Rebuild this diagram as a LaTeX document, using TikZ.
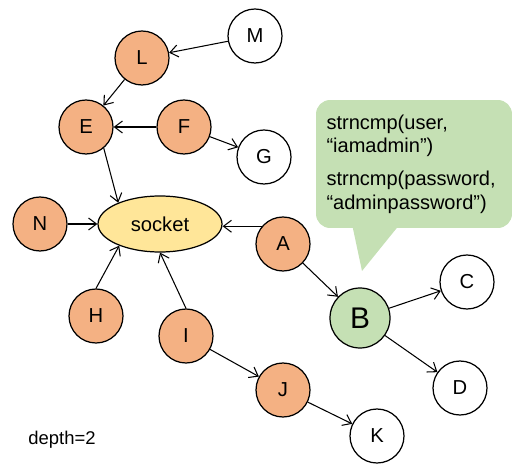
\documentclass[tikz,border=0pt]{standalone}
\usepackage{fontspec}
\setmainfont{Liberation Sans}
\usetikzlibrary{arrows.meta,positioning,shapes.geometric}
\definecolor{taintOrange}{RGB}{244,177,131}
\definecolor{taintGreen}{RGB}{197,224,180}
\definecolor{taintYellow}{RGB}{255,230,153}

\begin{document}
\begin{tikzpicture}[
    x=0.02cm, y=-0.02cm,
    fn/.style={circle, draw=black, line width=0.7pt, minimum size=1.08cm, inner sep=0pt, font=\fontsize{11.5}{13}\selectfont},
    hit/.style={fn, fill=taintOrange},
    leaf/.style={fn, fill=white},
    sink/.style={ellipse, draw=black, line width=0.7pt, fill=taintYellow, minimum width=2.48cm, minimum height=1.12cm, inner sep=0pt, font=\fontsize{11.5}{14}\selectfont},
    check/.style={fn, fill=taintGreen, minimum size=1.2cm, font=\fontsize{17}{19}\selectfont},
    note/.style={fill=taintGreen, rounded corners=8pt, align=left, font=\fontsize{11.4}{13.5}\selectfont, minimum width=3.92cm, minimum height=2.56cm, text width=3.5cm},
    arrow/.style={-{Straight Barb[length=1.6mm, width=2.4mm]}, line width=0.6pt, black}
  ]
    \useasboundingbox (0,0) rectangle (516,465);
    % callout with the comparisons
    \node[note] (cmp) at (414,164) {strncmp(user,\\“iamadmin”)\\[5pt]strncmp(password,\\“adminpassword”)};
    \fill[taintGreen] (352,224) -- (400,224) -- (362,271) -- cycle;
    % functions
    \node[leaf] (m) at (255,36) {M};
    \node[hit] (l) at (142,58) {L};
    \node[hit] (e) at (86,127) {E};
    \node[hit] (f) at (184,127) {F};
    \node[leaf] (g) at (264,157) {G};
    \node[hit] (n) at (40,224) {N};
    \node[sink] (s) at (160,224) {socket};
    \node[hit] (a) at (283,244) {A};
    \node[hit] (h) at (96,316) {H};
    \node[hit] (i) at (186,336) {I};
    \node[hit] (j) at (283,390) {J};
    \node[leaf] (k) at (377,436) {K};
    \node[check] (b) at (360,318) {B};
    \node[leaf] (c) at (467,282) {C};
    \node[leaf] (d) at (460,388) {D};
    \node[font=\fontsize{10.5}{12}\selectfont] (depth) at (62,440) {depth=2};
    % calls
    \draw[arrow] (m) -- (l);
    \draw[arrow] (l) -- (e);
    \draw[arrow] (f) -- (e);
    \draw[arrow] (f) -- (g);
    \draw[arrow] (e.-50) -- (s.153);
    \draw[arrow] (n) -- (s);
    \draw[arrow] (h.north) -- (s.208);
    \draw[arrow] (i.north) -- (s.south);
    \draw[arrow] (a.140) -- (a.140 -| s.east);
    \draw[arrow] (a) -- (b);
    \draw[arrow] (i) -- (j);
    \draw[arrow] (j) -- (k);
    \draw[arrow] (b) -- (c);
    \draw[arrow] (b) -- (d);
  \end{tikzpicture}
\end{document}
